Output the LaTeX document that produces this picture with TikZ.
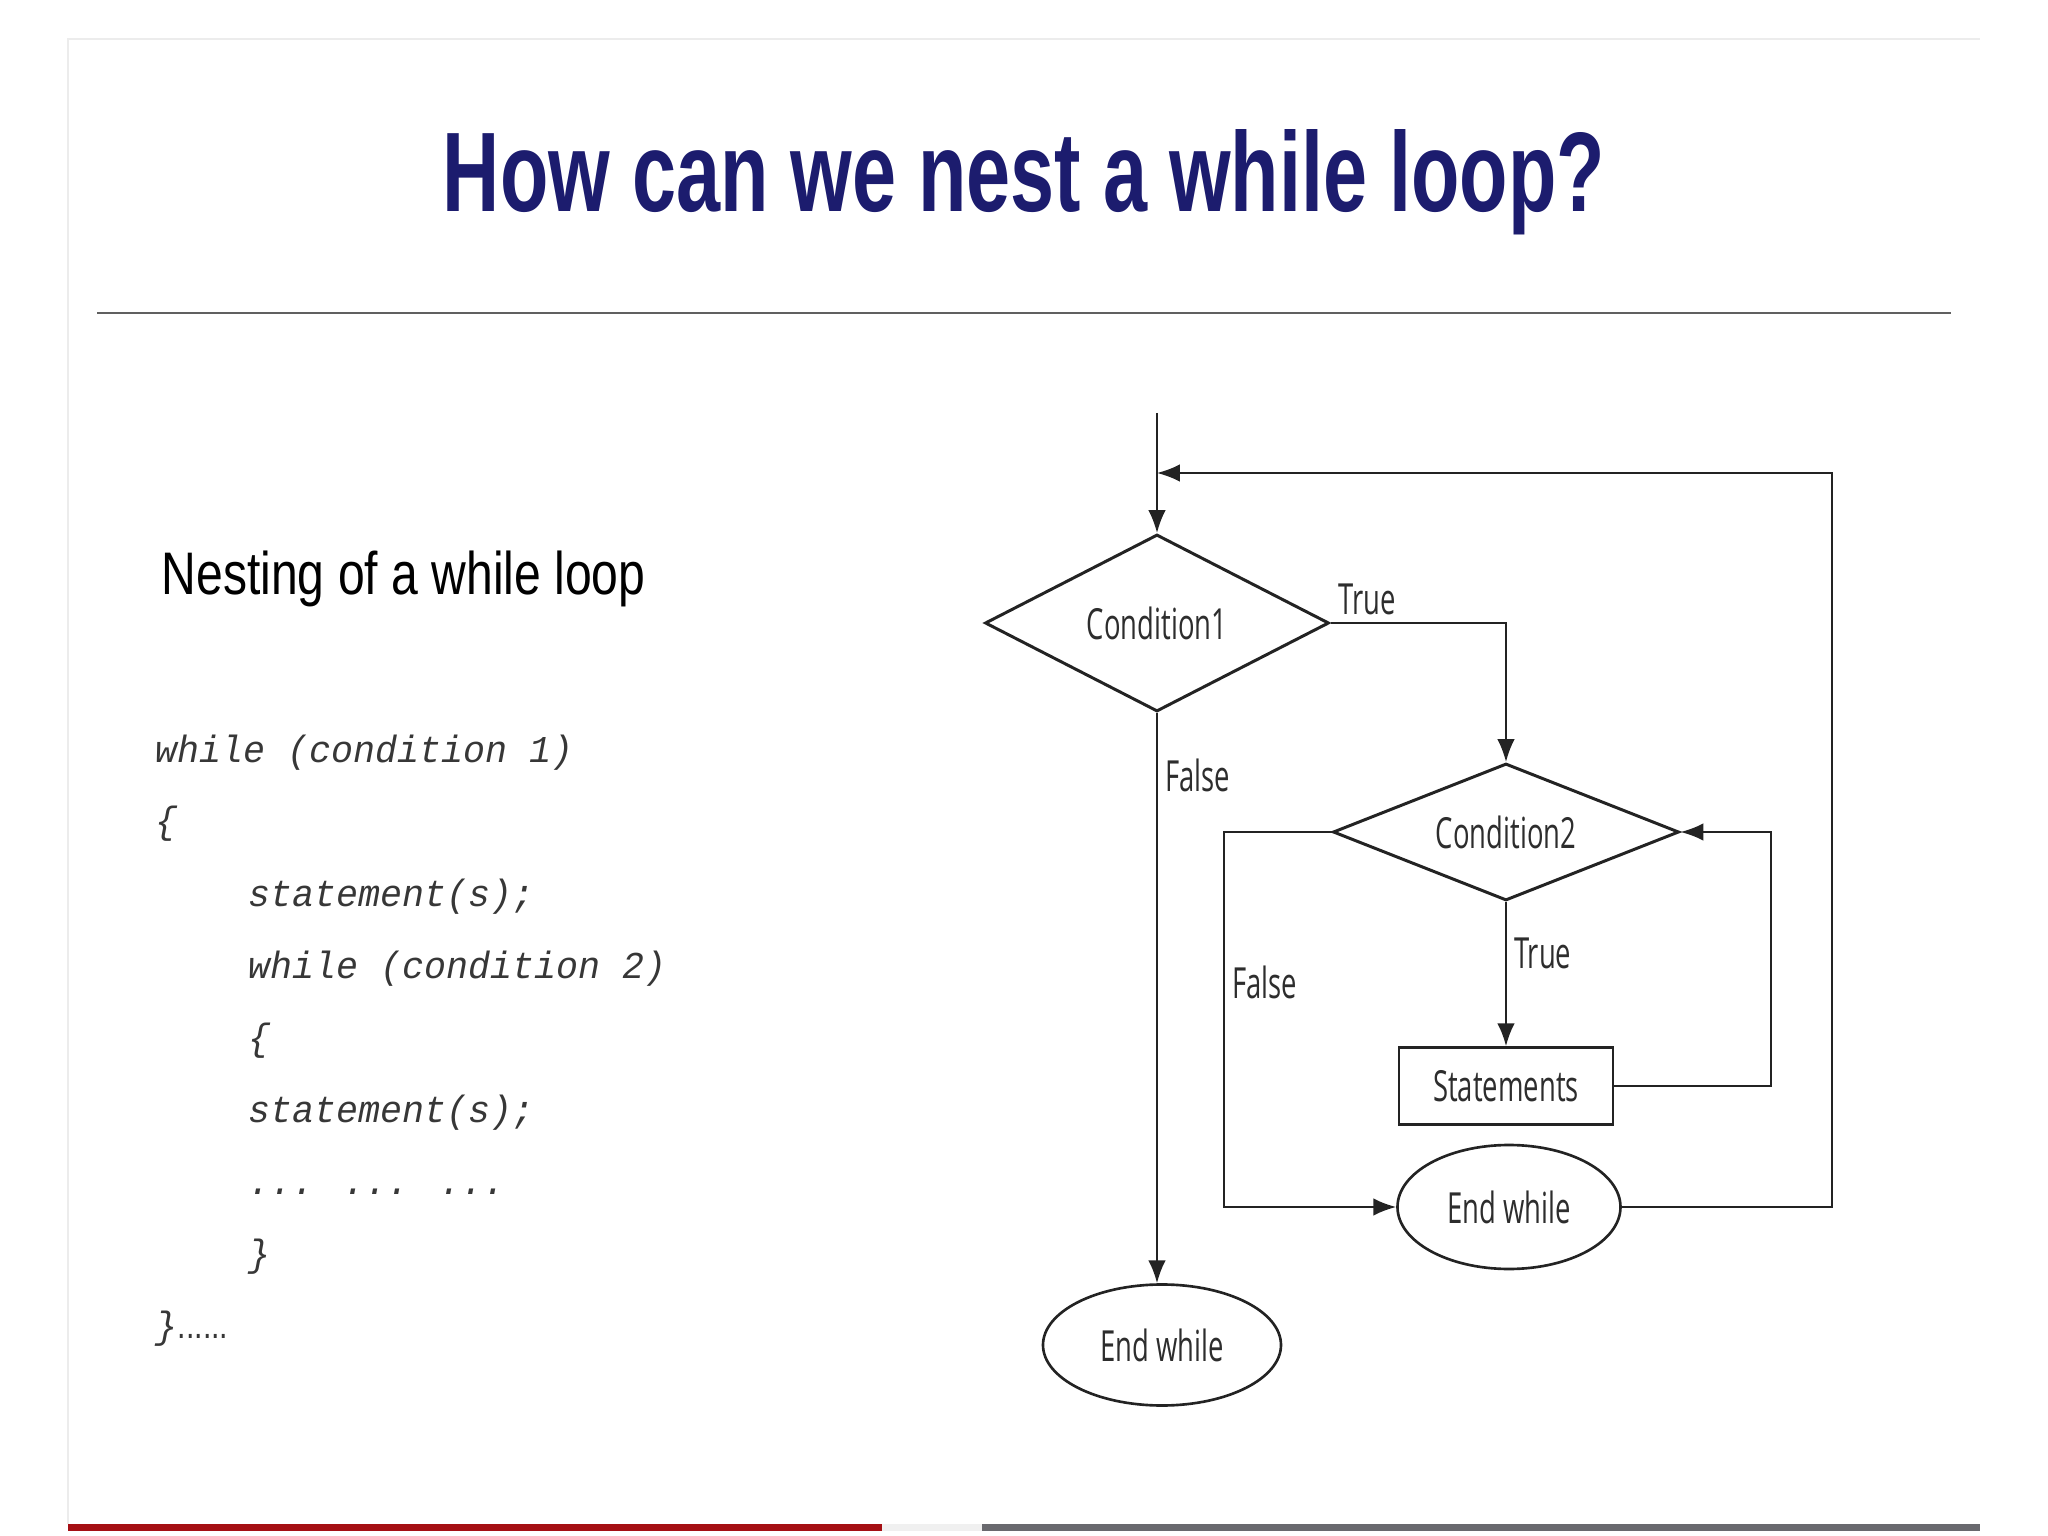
\documentclass[tikz,border=0pt]{standalone}
\usepackage{fontspec}
\usepackage{tikz}
\usetikzlibrary{arrows.meta,positioning,shapes.geometric}
\newfontfamily\titlefont[FakeStretch=0.70]{Liberation Sans}
\newfontfamily\headfont[FakeStretch=0.80]{Liberation Sans}
\newfontfamily\codefont[FakeStretch=0.965]{Liberation Mono}
\newfontfamily\flowfont[FakeStretch=0.64]{Open Sans}
\definecolor{titleblue}{RGB}{28,28,110}
\definecolor{flowline}{RGB}{35,35,35}
\definecolor{flowtext}{RGB}{45,45,45}
\definecolor{codegray}{RGB}{55,55,55}
\definecolor{barred}{RGB}{165,15,20}
\definecolor{bargray}{RGB}{105,105,110}

\begin{document}
\begin{tikzpicture}[
  every node/.style={font=\flowfont\fontsize{12.2}{14}\selectfont, text=flowtext},
  decision/.style={diamond, aspect=2.5, draw=flowline, line width=0.85pt, inner sep=0pt},
  terminal/.style={ellipse, draw=flowline, line width=0.75pt, inner sep=0pt},
  process/.style={rectangle, draw=flowline, line width=0.75pt, inner sep=0pt,
                  minimum width=2.14cm, minimum height=0.77cm},
  lbl/.style={inner sep=2pt},
  codeline/.style={anchor=base west, inner sep=0pt, text=codegray,
                   font=\codefont\itshape\fontsize{10.8}{13}\selectfont},
  arr/.style={-{Latex[length=6.5pt,width=5pt]}, draw=flowline, line width=0.6pt}
]
\useasboundingbox (0,0) rectangle (20.48,-15.36);

% slide frame and bars
\draw[gray!15, line width=0.5pt] (0.68,-15.24) -- (0.68,-0.39) -- (19.80,-0.39);
\fill[barred] (0.68,-15.24) rectangle (8.82,-15.31);
\fill[gray!12] (8.82,-15.24) rectangle (9.82,-15.31);
\fill[bargray] (9.82,-15.24) rectangle (19.80,-15.31);

% title
\node[anchor=base, inner sep=0pt, text=titleblue,
      font=\titlefont\bfseries\fontsize{32.2}{36}\selectfont] (title) at (10.24,-2.12)
      {How can we nest a while loop?};
\draw[gray!75!black, line width=0.7pt] (0.97,-3.13) -- (19.51,-3.13);

% left column
\node[anchor=base west, inner sep=0pt, text=black,
      font=\headfont\fontsize{17.1}{20}\selectfont] (head) at (1.61,-5.95)
      {Nesting of a while loop};
\node[codeline] (code1) at (1.55,-7.62) {while (condition 1)};
\node[codeline] (code2) at (1.55,-8.34) {\{};
\node[codeline] (code3) at (2.48,-9.06) {statement(s);};
\node[codeline] (code4) at (2.48,-9.78) {while (condition 2)};
\node[codeline] (code5) at (2.48,-10.50) {\{};
\node[codeline] (code6) at (2.48,-11.22) {statement(s);};
\node[codeline] (code7) at (2.48,-11.94) {... ... ...};
\node[codeline] (code8) at (2.48,-12.66) {\}};
\node[codeline] (code9) at (1.55,-13.38) {\}{\headfont\upshape......}};

% flowchart
\node[decision, minimum width=3.44cm, minimum height=1.77cm] (cond1) at (11.57,-6.23) {Condition1};
\node[decision, minimum width=3.46cm, minimum height=1.37cm] (cond2) at (15.06,-8.32) {Condition2};
\node[process] (stmts) at (15.06,-10.86) {Statements};
\node[terminal, minimum width=2.23cm, minimum height=1.24cm] (endin) at (15.09,-12.07) {End while};
\node[terminal, minimum width=2.38cm, minimum height=1.21cm] (endout) at (11.62,-13.45) {End while};

\coordinate (start) at (11.57,-4.13);
\coordinate (merge) at (11.57,-4.73);
\coordinate (rback) at (18.32,-4.73);
\coordinate (lfalse) at (12.24,-12.07);
\coordinate (rloop) at (17.71,-10.86);

\draw[arr] (start) -- (cond1.north);
\draw[arr] (cond1.east) -| node[lbl, pos=0, anchor=south west] {True} (cond2.north);
\draw[arr] (cond1.south) -- node[lbl, pos=0.11, anchor=west] {False} (cond1.south |- endout.north);
\draw[arr] (cond2.south) -- node[lbl, pos=0.36, anchor=west] {True} (stmts.north);
\draw[arr] (cond2.west) -| node[lbl, pos=0.70, anchor=west] {False} (lfalse) -- (endin.west);
\draw[arr] (stmts.east) -- (rloop) |- (cond2.east);
\draw[arr] (endin.east) -| (rback) -- (merge);
\end{tikzpicture}
\end{document}
